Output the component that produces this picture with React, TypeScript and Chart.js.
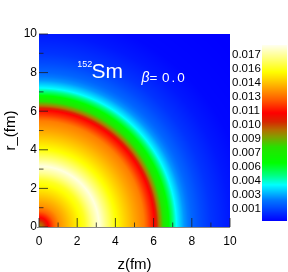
import React, { useEffect, useRef } from 'react';
import { Chart, registerables } from 'chart.js';

Chart.register(...registerables);

// Radial density profile of 152Sm (beta = 0): distance from origin (fm) -> density
const radiusFm = [0, 0.3, 0.5, 0.8, 1.1, 1.5, 2.0, 2.4, 2.8, 3.15, 3.5, 4.0, 4.5, 5.0, 5.5, 5.8, 6.05, 6.3, 6.55, 6.8, 7.2, 7.6, 8.0, 8.5, 9.0, 10, 11, 15];
const density = [0.0091, 0.0102, 0.0114, 0.0128, 0.0137, 0.0144, 0.0153, 0.016, 0.0173, 0.0182, 0.0171, 0.0157, 0.0148, 0.014, 0.0133, 0.0122, 0.0114, 0.0093, 0.0075, 0.0062, 0.0039, 0.0027, 0.002, 0.0015, 0.0011, 0.0006, 0.0003, 0.0001];

// Colour bar
const cbMin = 0.000174;
const cbMax = 0.0184;
const cbTickValues = [0.00145, 0.0029, 0.00435, 0.0058, 0.00725, 0.0087, 0.01015, 0.0116, 0.01305, 0.0145, 0.01595, 0.0174];
const cbTickLabels = ['0.001', '0.003', '0.004', '0.006', '0.007', '0.009', '0.010', '0.011', '0.013', '0.014', '0.016', '0.017'];
const cmapStops = [0, 0.119, 0.205, 0.26, 0.33, 0.42, 0.477, 0.517, 0.5625, 0.614, 0.6875, 0.744, 0.801, 0.847, 0.915, 1];
const cmapColors = [
  [0, 0, 255], [0, 120, 255], [0, 255, 255], [0, 255, 128], [0, 255, 0], [40, 225, 0],
  [130, 160, 0], [180, 110, 0], [215, 40, 0], [255, 0, 0], [255, 90, 0], [255, 150, 0],
  [255, 210, 0], [255, 255, 0], [255, 255, 110], [255, 255, 240],
];

// Axes
const axisMin = 0;
const axisMax = 10;
const axisStep = 1;
const xTitle = 'z(fm)';
const yTitle = 'r_(fm)';

// Labels (data coordinates)
const nucleusMass = '152';
const nucleusName = 'Sm';
const massPos = [2.0, 8.27];
const namePos = [2.75, 7.72];
const betaPos = [5.36, 7.53];
const betaValue = '0.0';

const FONT = "'Liberation Sans', Arial, Helvetica, sans-serif";

function interpDensity(rad: number): number {
  if (rad <= radiusFm[0]) return density[0];
  for (let i = 1; i < radiusFm.length; i++) {
    if (rad <= radiusFm[i]) {
      const f = (rad - radiusFm[i - 1]) / (radiusFm[i] - radiusFm[i - 1]);
      return density[i - 1] + f * (density[i] - density[i - 1]);
    }
  }
  return density[density.length - 1];
}

function colorFor(v: number): number[] {
  let t = (v - cbMin) / (cbMax - cbMin);
  t = Math.max(0, Math.min(1, t));
  for (let i = 1; i < cmapStops.length; i++) {
    if (t <= cmapStops[i]) {
      const f = (t - cmapStops[i - 1]) / (cmapStops[i] - cmapStops[i - 1]);
      const a = cmapColors[i - 1], b = cmapColors[i];
      return [a[0] + f * (b[0] - a[0]), a[1] + f * (b[1] - a[1]), a[2] + f * (b[2] - a[2])];
    }
  }
  return cmapColors[cmapColors.length - 1];
}

const heatmapPlugin = {
  id: 'heatmap',
  beforeDatasetsDraw(chart: any) {
    const { ctx, chartArea: a, scales } = chart;
    const xs = scales.x, ys = scales.y;
    const w = Math.round(a.right - a.left), h = Math.round(a.bottom - a.top);
    const off = document.createElement('canvas');
    off.width = w; off.height = h;
    const octx = off.getContext('2d')!;
    const img = octx.createImageData(w, h);
    for (let j = 0; j < h; j++) {
      const r = ys.getValueForPixel(a.top + j + 0.5);
      for (let i = 0; i < w; i++) {
        const z = xs.getValueForPixel(a.left + i + 0.5);
        const c = colorFor(interpDensity(Math.hypot(z, r)));
        const k = (j * w + i) * 4;
        img.data[k] = c[0]; img.data[k + 1] = c[1]; img.data[k + 2] = c[2]; img.data[k + 3] = 255;
      }
    }
    octx.putImageData(img, 0, 0);
    ctx.drawImage(off, a.left, a.top, w, h);

    // colour bar
    const cb = scales.cb;
    const top = Math.round(cb.getPixelForValue(cbMax));
    const bottom = Math.round(cb.getPixelForValue(cbMin));
    const x0 = cb.right - 26;
    for (let py = top; py < bottom; py++) {
      const c = colorFor(cb.getValueForPixel(py + 0.5));
      ctx.fillStyle = `rgb(${c[0] | 0},${c[1] | 0},${c[2] | 0})`;
      ctx.fillRect(x0, py, 25, 1);
    }
  },
  afterDatasetsDraw(chart: any) {
    const { ctx, chartArea: a, scales } = chart;
    const xs = scales.x, ys = scales.y;
    ctx.save();
    // inward tick marks
    ctx.strokeStyle = 'rgba(30,30,30,0.8)';
    ctx.lineWidth = 1;
    ctx.beginPath();
    xs.ticks.forEach((t: any) => {
      const px = xs.getPixelForValue(t.value);
      const len = t.value % 2 === 0 ? 9 : 4.5;
      ctx.moveTo(px, a.bottom);
      ctx.lineTo(px, a.bottom - len);
    });
    ys.ticks.forEach((t: any) => {
      const py = ys.getPixelForValue(t.value);
      const len = t.value % 2 === 0 ? 9 : 4.5;
      ctx.moveTo(a.left, py);
      ctx.lineTo(a.left + len, py);
    });
    ctx.stroke();
    // bottom axis line
    ctx.strokeStyle = '#888';
    ctx.beginPath();
    ctx.moveTo(a.left - 2, a.bottom + 0.5);
    ctx.lineTo(a.right, a.bottom + 0.5);
    ctx.stroke();

    // annotations
    ctx.fillStyle = '#fff';
    ctx.textBaseline = 'alphabetic';
    ctx.textAlign = 'left';
    ctx.font = `9px ${FONT}`;
    ctx.fillText(nucleusMass, xs.getPixelForValue(massPos[0]), ys.getPixelForValue(massPos[1]));
    ctx.font = `21px ${FONT}`;
    ctx.fillText(nucleusName, xs.getPixelForValue(namePos[0]), ys.getPixelForValue(namePos[1]));
    const bx = xs.getPixelForValue(betaPos[0]);
    const by = ys.getPixelForValue(betaPos[1]);
    ctx.font = `italic 14px ${FONT}`;
    ctx.fillText('\u03b2', bx, by);
    ctx.font = `13.5px ${FONT}`;
    ctx.fillText('=', bx + 8, by);
    (ctx as any).letterSpacing = '2px';
    ctx.fillText(betaValue, bx + 20.5, by);
    (ctx as any).letterSpacing = '0px';
    ctx.restore();
  },
};

export default function App() {
  const ref = useRef<HTMLCanvasElement>(null);
  useEffect(() => {
    if (!ref.current) return;
    Chart.defaults.font.family = FONT;
    const span = cbMax - cbMin;
    const chart = new Chart(ref.current, {
      type: 'scatter',
      data: { datasets: [{ data: [], pointRadius: 0 }] },
      options: {
        responsive: false,
        animation: false,
        events: [],
        layout: { padding: { top: 34, left: 0, right: 0, bottom: 0 } },
        plugins: { legend: { display: false }, tooltip: { enabled: false } },
        scales: {
          x: {
            type: 'linear', position: 'bottom', min: axisMin, max: axisMax,
            grid: { display: false, drawTicks: false }, border: { display: false },
            ticks: {
              stepSize: axisStep, autoSkip: false, maxRotation: 0, padding: 7, color: '#000',
              font: { size: 12 }, callback: (v: any) => (Number(v) % 2 === 0 ? String(v) : ''),
            },
            title: { display: true, text: xTitle, color: '#000', font: { size: 15, lineHeight: 1 }, padding: { top: 0, bottom: 0 } },
            afterFit: (s: any) => { s.height = 45; },
          },
          y: {
            type: 'linear', position: 'left', min: axisMin, max: axisMax,
            grid: { display: false, drawTicks: false }, border: { display: false },
            ticks: {
              stepSize: axisStep, autoSkip: false, padding: 2, color: '#000',
              font: { size: 12 }, callback: (v: any) => (Number(v) % 2 === 0 ? String(v) : ''),
            },
            title: { display: true, text: yTitle, color: '#000', font: { size: 15, lineHeight: 1 }, padding: { top: 3, bottom: 0 } },
            afterFit: (s: any) => { s.width = 39; },
          },
          cb: {
            type: 'linear', position: 'right',
            min: cbMin - (6 / 176) * span, max: cbMax + (11 / 176) * span,
            grid: { display: false, drawTicks: false }, border: { display: false },
            afterBuildTicks: (s: any) => { s.ticks = cbTickValues.map((v) => ({ value: v })); },
            ticks: {
              autoSkip: false, padding: 2, color: '#000', font: { size: 11.5 },
              callback: (_v: any, i: number) => cbTickLabels[i],
            },
            afterFit: (s: any) => { s.width = 58; },
          },
        },
      },
      plugins: [heatmapPlugin],
    } as any);
    return () => chart.destroy();
  }, []);
  return (
    <div style={{ position: 'absolute', left: 0, top: 0, width: 288, height: 272, background: '#fff' }}>
      <canvas ref={ref} width={288} height={272} style={{ display: 'block' }} />
    </div>
  );
}
